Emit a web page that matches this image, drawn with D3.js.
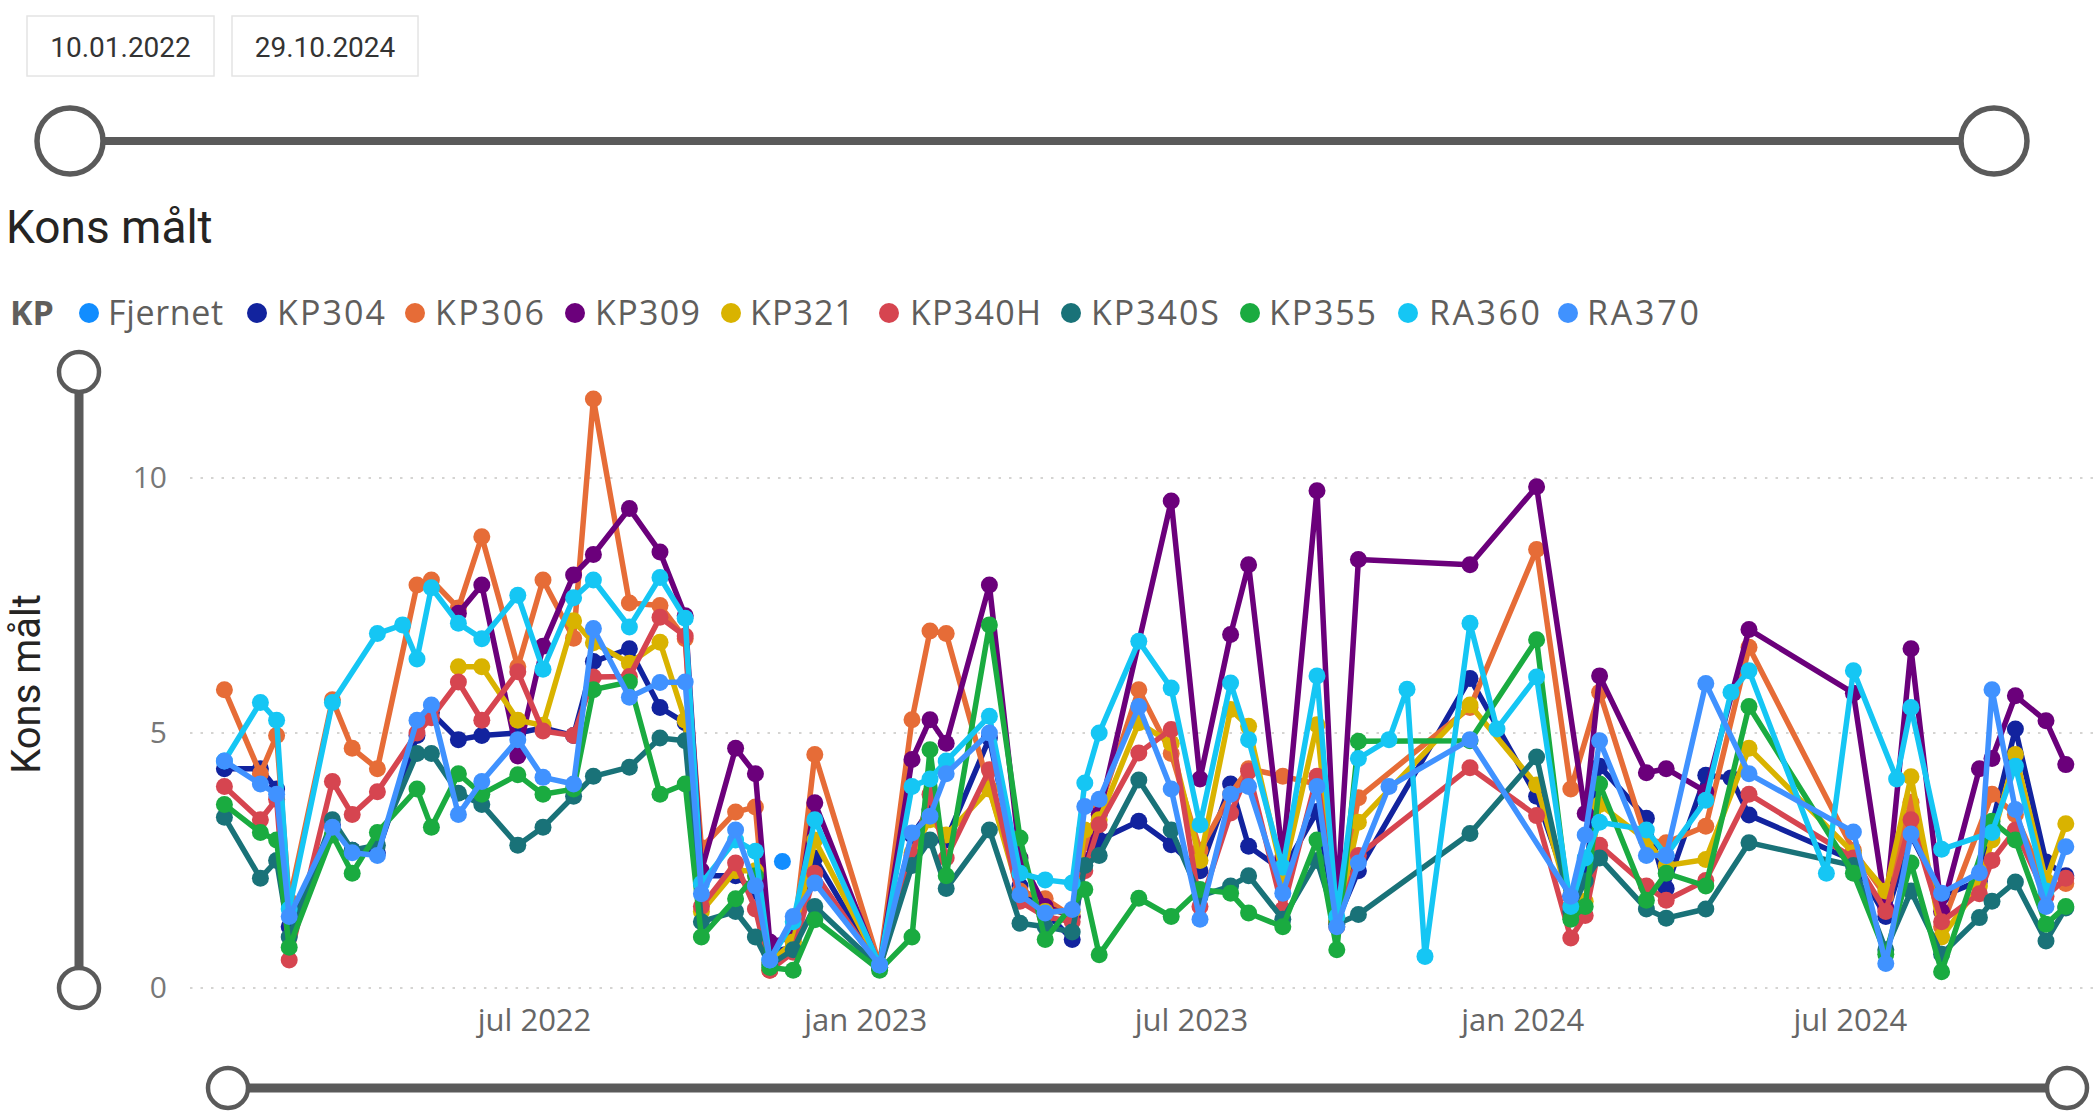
<!DOCTYPE html>
<html><head><meta charset="utf-8">
<script src="https://cdn.jsdelivr.net/npm/d3@7"></script>
<style>html,body{margin:0;padding:0;background:#fff;overflow:hidden}</style>
</head><body>
<svg id="c" width="2094" height="1116"></svg>
<script>
// ---------- DATA ----------
const dateRange = ["10.01.2022", "29.10.2024"];
const chartTitle = "Kons målt";
const yTitle = "Kons målt";
const legendTitle = "KP";
const seriesNames = ["Fjernet","KP304","KP306","KP309","KP321","KP340H","KP340S","KP355","RA360","RA370"];
const seriesColors = ["#118DFF","#12239E","#E66C37","#6B007B","#D9B300","#D64550","#197278","#1AAB40","#15C6F4","#4092FF"];
const yTicks = [0, 5, 10];
const xTickDates = ["2022-07-01","2023-01-01","2023-07-01","2024-01-01","2024-07-01"];
const xTickLabels = ["jul 2022","jan 2023","jul 2023","jan 2024","jul 2024"];

const dates = [
 "2022-01-10","2022-01-30","2022-02-08","2022-02-15","2022-03-11","2022-03-22","2022-04-05","2022-04-19","2022-04-27","2022-05-05",
 "2022-05-20","2022-06-02","2022-06-22","2022-07-06","2022-07-23","2022-08-03","2022-08-23","2022-09-09","2022-09-23","2022-10-02",
 "2022-10-21","2022-11-01","2022-11-09","2022-11-22","2022-12-04","2023-01-09","2023-01-27","2023-02-06","2023-02-15","2023-03-11",
 "2023-03-28","2023-04-11","2023-04-26","2023-05-03","2023-05-11","2023-06-02","2023-06-20","2023-07-06","2023-07-23","2023-08-02",
 "2023-08-21","2023-09-09","2023-09-20","2023-10-02","2023-10-19","2023-10-29","2023-11-08","2023-12-03","2023-12-18","2024-01-09",
 "2024-01-28","2024-02-05","2024-02-13","2024-03-10","2024-03-21","2024-04-12","2024-04-26","2024-05-06","2024-06-18","2024-07-03",
 "2024-07-21","2024-07-27","2024-08-04","2024-08-21","2024-09-11","2024-09-18","2024-10-01","2024-10-18","2024-10-29"];

const fjernetDates = ["2022-11-16"];
const fjernetValues = [2.48];

const KP304 = [
 4.3,4.3,3.9,1.2,3.2,2.7,2.65,null,4.95,5.4,
 4.87,4.95,5.0,5.1,4.95,6.4,6.65,5.5,5.2,2.2,
 2.2,1.9,0.7,0.8,2.55,0.4,3.0,3.5,2.9,4.9,
 2.0,1.5,0.95,2.5,2.9,3.27,2.81,2.3,4.0,2.78,
 2.3,3.46,1.3,2.3,null,null,null,6.07,null,3.76,
 1.8,2.2,4.35,3.33,1.95,4.17,4.12,3.39,null,2.5,
 1.4,null,3.0,1.8,2.1,3.2,5.08,2.47,2.2];
const KP306 = [
 5.85,4.2,4.95,1.7,5.65,4.7,4.3,null,7.9,8.0,
 7.45,8.85,6.3,8.0,6.86,11.55,7.55,7.5,6.85,2.75,
 3.45,3.55,0.35,0.9,4.58,0.45,5.26,7.0,6.95,3.9,
 1.9,1.75,1.4,2.85,3.5,5.85,4.6,2.7,3.8,4.3,
 4.15,4.0,1.3,3.73,null,null,null,5.5,null,8.6,
 3.9,null,5.8,2.9,2.85,3.17,null,6.68,null,2.7,
 1.8,null,3.64,1.2,null,3.8,3.4,2.0,2.05];
const KP309 = [
 null,null,null,null,null,null,null,null,null,null,
 7.35,7.9,4.55,6.7,8.1,8.5,9.4,8.55,7.3,2.3,
 4.7,4.2,0.9,1.0,3.63,0.4,4.48,5.26,4.8,7.9,
 2.55,1.6,1.4,null,3.4,null,9.55,4.1,6.93,8.3,
 2.55,9.75,1.6,8.4,null,null,null,8.3,null,9.83,
 null,3.42,6.12,4.22,4.3,3.85,null,7.03,null,5.78,
 1.57,null,6.65,1.5,4.3,4.5,5.73,5.24,4.38];
const KP321 = [
 null,null,null,null,null,null,null,null,null,null,
 6.3,6.3,5.25,5.15,7.2,6.77,6.37,6.78,5.25,1.5,
 2.3,2.3,0.5,0.9,2.9,0.45,2.65,3.3,3.0,3.9,
 1.8,1.5,1.5,3.1,3.3,5.2,4.8,2.5,5.46,5.13,
 2.2,5.16,1.3,3.25,null,null,null,5.55,null,3.98,
 1.6,1.7,3.6,2.9,2.4,2.52,null,4.7,null,2.65,
 1.9,null,4.14,1.0,2.0,2.9,4.58,2.1,3.22];
const KP340H = [
 3.95,3.3,3.7,0.55,4.05,3.4,3.85,null,5.0,5.3,
 6.0,5.25,6.2,5.04,4.95,6.1,6.11,7.27,6.9,1.6,
 2.45,1.55,0.35,0.7,2.25,0.4,2.6,3.8,2.55,4.28,
 1.7,1.4,1.3,2.3,3.2,4.61,5.07,1.6,3.43,4.25,
 1.54,4.15,1.2,2.6,null,null,null,4.32,null,3.38,
 0.98,1.42,2.8,2.0,1.72,2.11,null,3.8,null,2.55,
 1.5,null,3.3,1.3,1.85,2.5,3.1,1.8,2.15];
const KP340S = [
 3.35,2.15,2.5,1.0,3.3,2.7,2.8,null,4.6,4.6,
 3.82,3.6,2.8,3.15,3.76,4.15,4.33,4.9,4.85,1.3,
 1.5,1.0,0.45,0.75,1.6,0.4,2.4,2.9,1.95,3.1,
 1.27,1.2,1.1,2.4,2.6,4.08,3.1,1.8,2.0,2.2,
 1.35,2.5,1.25,1.44,null,null,null,3.03,null,4.53,
 1.5,2.1,2.55,1.55,1.37,1.55,null,2.85,null,2.4,
 0.75,null,1.9,0.66,1.38,1.7,2.08,0.92,1.57];
const KP355 = [
 3.6,3.05,2.9,0.8,3.0,2.25,3.05,null,3.9,3.15,
 4.2,3.8,4.18,3.8,3.9,5.85,6.0,3.8,4.0,1.0,
 1.75,2.2,0.4,0.35,1.34,0.35,1.0,4.67,2.2,7.12,
 2.94,0.95,null,1.93,0.65,1.76,1.4,1.93,1.86,1.47,
 1.2,2.9,0.75,4.84,null,null,null,4.85,null,6.83,
 1.35,1.6,4.0,1.72,2.25,2.0,null,5.52,null,2.25,
 0.66,null,2.45,0.32,null,3.27,2.9,1.25,1.6];
const RA360 = [
 4.45,5.6,5.25,1.55,5.6,null,6.95,7.12,6.45,7.85,
 7.15,6.85,7.7,6.25,7.65,8.0,7.08,8.05,7.25,2.05,
 2.9,2.68,0.55,1.3,3.3,0.45,3.95,4.1,4.45,5.33,
 2.25,2.12,2.06,4.02,5.0,6.8,5.88,3.2,5.98,4.87,
 2.37,6.12,1.4,4.5,4.87,5.86,0.62,7.15,5.08,6.1,
 1.6,2.55,3.25,3.1,2.6,3.68,5.8,6.22,2.25,6.22,
 null,4.1,5.5,2.72,null,3.05,4.35,1.9,null];
const RA370 = [
 4.45,4.0,3.8,1.4,3.15,2.65,2.6,null,5.25,5.55,
 3.4,4.05,4.87,4.13,4.0,7.05,5.7,5.99,6.0,1.85,
 3.1,2.0,0.55,1.4,2.06,0.45,3.04,3.37,4.2,5.0,
 1.83,1.47,1.54,3.56,3.7,5.52,3.9,1.35,3.8,3.95,
 1.86,3.95,1.2,2.45,3.95,null,null,4.87,null,null,
 1.8,3.0,4.85,2.6,2.6,5.97,null,4.2,null,3.06,
 0.48,null,3.02,1.86,2.26,5.85,3.5,1.6,2.77];

// ---------- BUILD ----------
const parse = d3.utcParse("%Y-%m-%d");
const valueArrays = [null, KP304, KP306, KP309, KP321, KP340H, KP340S, KP355, RA360, RA370];
const series = seriesNames.map((name, i) => {
  let pts;
  if (i === 0) pts = fjernetDates.map((d, j) => ({date: parse(d), v: fjernetValues[j]}));
  else pts = dates.map((d, j) => ({date: parse(d), v: valueArrays[i][j]}));
  return {name, color: seriesColors[i], pts: pts.filter(p => p.v != null)};
});

const svg = d3.select("#c");
const ink = "#252423", gray = "#605E5C", tickGray = "#777", track = "#5a5a5a";

// date boxes
const boxes = [{x: 27, w: 187}, {x: 232, w: 186}];
boxes.forEach((b, i) => {
  svg.append("rect").attr("x", b.x).attr("y", 16).attr("width", b.w).attr("height", 60)
    .attr("fill", "#fff").attr("stroke", "#e4e4e4").attr("stroke-width", 1.5);
  svg.append("text").attr("x", b.x + b.w / 2).attr("y", 57).attr("text-anchor", "middle")
    .attr("font-family", "Roboto, sans-serif").attr("font-size", 28).attr("fill", "#333")
    .text(dateRange[i]);
});

// top slider
svg.append("line").attr("x1", 100).attr("x2", 1962).attr("y1", 141).attr("y2", 141)
  .attr("stroke", track).attr("stroke-width", 8);
[70, 1994].forEach(cx => svg.append("circle").attr("cx", cx).attr("cy", 141).attr("r", 33)
  .attr("fill", "#fff").attr("stroke", track).attr("stroke-width", 5.5));

// title
svg.append("text").attr("x", 6).attr("y", 243).attr("font-family", "Roboto, sans-serif")
  .attr("font-size", 46).attr("fill", ink).text(chartTitle);

// legend
svg.append("text").attr("x", 10).attr("y", 325).attr("font-family", "'Open Sans', sans-serif")
  .attr("font-size", 34).attr("font-weight", 700).attr("fill", gray).text(legendTitle);
const legCx = [89, 257, 415, 575, 731, 889, 1071, 1250, 1408, 1568];
const legTx = [108, 277, 435, 595, 750, 910, 1091, 1269, 1429, 1587];
const legW = [115, 108, 109, 105, 104, 131, 128, 107, 111, 112];
seriesNames.forEach((n, i) => {
  svg.append("circle").attr("cx", legCx[i]).attr("cy", 313).attr("r", 10).attr("fill", seriesColors[i]);
  svg.append("text").attr("x", legTx[i]).attr("y", 325).attr("font-family", "'Open Sans', sans-serif")
    .attr("font-size", 34).attr("fill", gray).attr("textLength", legW[i]).attr("lengthAdjust", "spacing").text(n);
});

// scales
const x = d3.scaleUtc().domain([parse("2022-01-10"), parse("2024-10-29")]).range([224.4, 2065.8]);
const y = d3.scaleLinear().domain([0, 10]).range([988, 478]);

// vertical slider
svg.append("line").attr("x1", 79).attr("x2", 79).attr("y1", 372).attr("y2", 988)
  .attr("stroke", track).attr("stroke-width", 9);
[372, 988].forEach(cy => svg.append("circle").attr("cx", 79).attr("cy", cy).attr("r", 20)
  .attr("fill", "#fff").attr("stroke", track).attr("stroke-width", 4.5));

// y title
svg.append("text").attr("transform", "translate(40,684) rotate(-90)").attr("text-anchor", "middle")
  .attr("font-family", "Roboto, sans-serif").attr("font-size", 40).attr("fill", ink).text(yTitle);

// gridlines
svg.append("g").selectAll("line").data(yTicks).join("line")
  .attr("x1", 190).attr("x2", 2094).attr("y1", d => y(d)).attr("y2", d => y(d))
  .attr("stroke", "#c8c6c4").attr("stroke-width", 1.6).attr("stroke-dasharray", "2.5,8");

// y axis labels
const yAxis = svg.append("g").attr("transform", "translate(175,0)")
  .call(d3.axisLeft(y).tickValues(yTicks).tickSize(0).tickPadding(8));
yAxis.select(".domain").remove();
yAxis.selectAll("text").attr("font-family", "'Open Sans', sans-serif").attr("font-size", 30).attr("fill", tickGray);

// x axis labels
const xAxis = svg.append("g").attr("transform", "translate(0,988)")
  .call(d3.axisBottom(x).tickValues(xTickDates.map(parse)).tickFormat((d, i) => xTickLabels[i]).tickSize(0).tickPadding(21));
xAxis.select(".domain").remove();
xAxis.selectAll("text").attr("font-family", "'Open Sans', sans-serif").attr("font-size", 31).attr("fill", "#666");

// series
const line = d3.line().x(d => x(d.date)).y(d => y(d.v));
const gS = svg.append("g");
series.forEach(s => {
  const g = gS.append("g");
  if (s.pts.length > 1) g.append("path").datum(s.pts).attr("d", line).attr("fill", "none")
    .attr("stroke", s.color).attr("stroke-width", 5.5).attr("stroke-linejoin", "round").attr("stroke-linecap", "round");
  g.selectAll("circle").data(s.pts).join("circle").attr("cx", d => x(d.date)).attr("cy", d => y(d.v))
    .attr("r", 8.5).attr("fill", s.color);
});

// bottom slider
svg.append("line").attr("x1", 228).attr("x2", 2067).attr("y1", 1088).attr("y2", 1088)
  .attr("stroke", track).attr("stroke-width", 9);
[228, 2067].forEach(cx => svg.append("circle").attr("cx", cx).attr("cy", 1088).attr("r", 20)
  .attr("fill", "#fff").attr("stroke", track).attr("stroke-width", 4.5));
</script>
</body></html>
